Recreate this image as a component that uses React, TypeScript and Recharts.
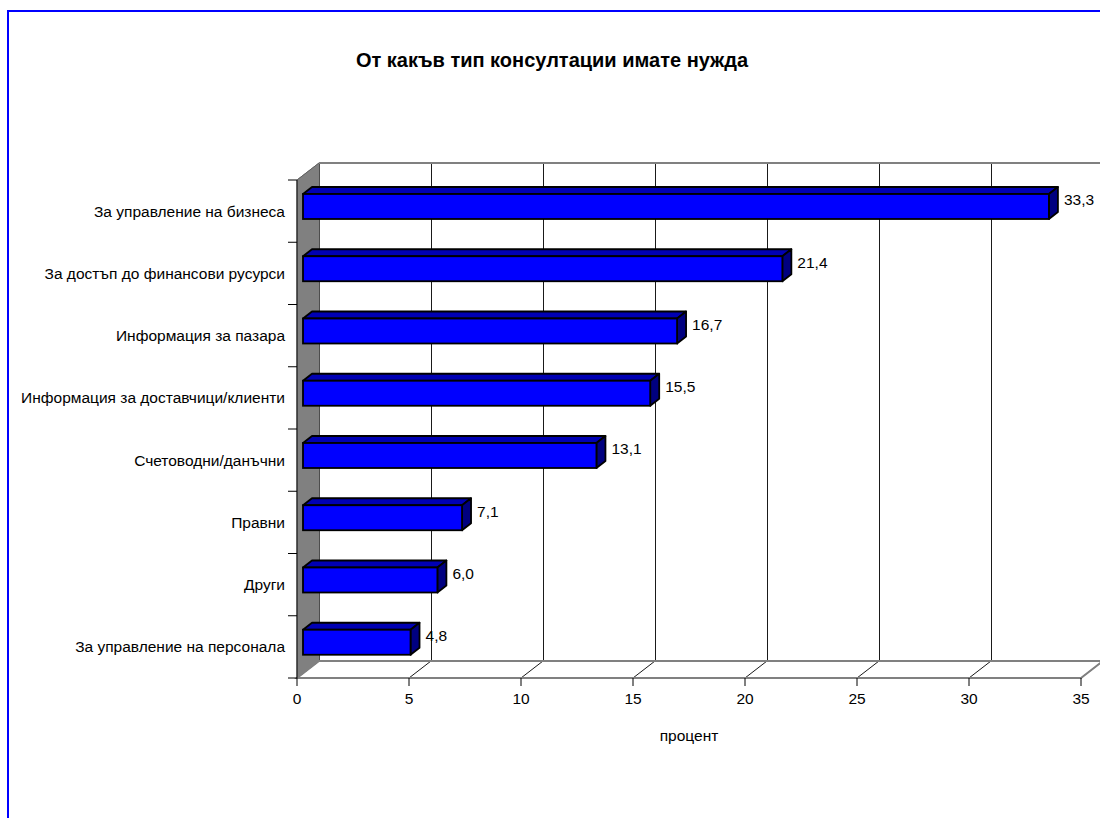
import React from 'react';
import { BarChart, Bar, XAxis, YAxis, CartesianGrid, ReferenceArea, LabelList } from 'recharts';

const categories = [
  'За управление на бизнеса',
  'За достъп до финансови русурси',
  'Информация за пазара',
  'Информация за доставчици/клиенти',
  'Счетоводни/данъчни',
  'Правни',
  'Други',
  'За управление на персонала',
];
const values = [33.3, 21.4, 16.7, 15.5, 13.1, 7.1, 6.0, 4.8];
const xTicks = [0, 5, 10, 15, 20, 25, 30, 35];
const title = 'От какъв тип консултации имате нужда';
const xLabel = 'процент';

const data = categories.map((name, i) => ({ name, value: values[i] }));

const FONT = "'Liberation Sans', Arial, sans-serif";
const FS = 15.5;
const WALL_DX = 22;
const WALL_DY = -17;
const BAR_OX = 6;
const BAR_OY = -5;
const BAR_DX = 9;
const BAR_DY = -7;

const Bar3D = (props: any) => {
  const { x, y, width, height } = props;
  const fx = x + BAR_OX;
  const fy = y + BAR_OY;
  const w = width;
  const h = height;
  const sw = 1.8;
  return (
    <g>
      <polygon
        points={`${fx},${fy} ${fx + BAR_DX},${fy + BAR_DY} ${fx + w + BAR_DX},${fy + BAR_DY} ${fx + w},${fy}`}
        fill="#0000B4"
        stroke="#000"
        strokeWidth={sw}
        strokeLinejoin="round"
      />
      <polygon
        points={`${fx + w},${fy} ${fx + w + BAR_DX},${fy + BAR_DY} ${fx + w + BAR_DX},${fy + h + BAR_DY} ${fx + w},${fy + h}`}
        fill="#000080"
        stroke="#000"
        strokeWidth={sw}
        strokeLinejoin="round"
      />
      <rect x={fx} y={fy} width={w} height={h} fill="#0000FF" stroke="#000" strokeWidth={sw} />
    </g>
  );
};

const Walls = (props: any) => {
  const { x, y, width, height } = props;
  const b = y + height;
  const r = x + width;
  return (
    <g>
      <polygon
        points={`${x},${y} ${x + WALL_DX},${y + WALL_DY} ${x + WALL_DX},${b + WALL_DY} ${x},${b}`}
        fill="#808080"
        stroke="#808080"
        strokeWidth={1}
      />
      <polygon
        points={`${x},${b} ${r},${b} ${r + WALL_DX},${b + WALL_DY} ${x + WALL_DX},${b + WALL_DY}`}
        fill="none"
        stroke="#808080"
        strokeWidth={2}
      />
      <line x1={x + WALL_DX} y1={y + WALL_DY} x2={r + WALL_DX} y2={y + WALL_DY} stroke="#808080" strokeWidth={2} />
      <line x1={x} y1={y} x2={x + WALL_DX} y2={y + WALL_DY} stroke="#606060" strokeWidth={1} />
    </g>
  );
};

const gridLine = (props: any) => {
  const { x1, y1, y2, index } = props;
  return (
    <g key={`g-${index}-${x1}`}>
      <line
        x1={x1 + WALL_DX}
        y1={y1 + WALL_DY}
        x2={x1 + WALL_DX}
        y2={y2 + WALL_DY}
        stroke="#1a1a1a"
        strokeWidth={1}
        shapeRendering="crispEdges"
      />
      <line x1={x1} y1={y2} x2={x1 + WALL_DX} y2={y2 + WALL_DY} stroke="#1a1a1a" strokeWidth={1} />
    </g>
  );
};

const YTick = (props: any) => {
  const { x, y, payload, index, visibleTicksCount } = props;
  const half = payload && payload.offset ? payload.offset : 31.125;
  const ax = x + 12;
  const last = index === (visibleTicksCount ?? categories.length) - 1;
  return (
    <g>
      <line x1={ax - 9} y1={y - half} x2={ax} y2={y - half} stroke="#000" strokeWidth={1} />
      {last && <line x1={ax - 9} y1={y + half} x2={ax} y2={y + half} stroke="#000" strokeWidth={1} />}
      <text x={x} y={y} dy="0.35em" textAnchor="end" fontSize={FS} fill="#000" fontFamily={FONT}>
        {payload.value}
      </text>
    </g>
  );
};

const ValueLabel = (props: any) => {
  const { x, y, width, height, value } = props;
  const tx = x + width + BAR_OX + BAR_DX + 6;
  const ty = y + height / 2 + BAR_OY - 6.5;
  return (
    <text x={tx} y={ty} dy="0.35em" fontSize={FS} fill="#000" fontFamily={FONT}>
      {Number(value).toFixed(1).replace('.', ',')}
    </text>
  );
};

export default function App() {
  return (
    <div style={{ position: 'absolute', left: 0, top: 0, width: 1100, height: 818, overflow: 'hidden', background: '#fff', fontFamily: FONT }}>
      <div
        style={{
          position: 'absolute',
          left: 7,
          top: 10,
          width: 1200,
          height: 900,
          borderLeft: '2px solid #0000FF',
          borderTop: '2px solid #0000FF',
        }}
      />
      <div
        style={{
          position: 'absolute',
          left: 0,
          width: 1104,
          top: 48,
          textAlign: 'center',
          fontWeight: 'bold',
          fontSize: 20,
          color: '#000',
          lineHeight: '24px',
        }}
      >
        {title}
      </div>
      <div style={{ position: 'absolute', left: 0, top: 0 }}>
        <BarChart
          width={1100}
          height={818}
          data={data}
          layout="vertical"
          margin={{ top: 180, right: 19, bottom: 110, left: 0 }}
          barSize={25}
        >
          <ReferenceArea x1={0} x2={35} shape={<Walls />} ifOverflow="visible" />
          <CartesianGrid horizontal={false} vertical={gridLine} />
          <XAxis
            type="number"
            domain={[0, 35]}
            ticks={xTicks}
            interval={0}
            height={30}
            tickSize={8}
            tickMargin={7}
            axisLine={{ stroke: '#808080', strokeWidth: 2 }}
            tickLine={{ stroke: '#000' }}
            tick={{ fontSize: FS, fill: '#000', fontFamily: FONT }}
            label={{ value: xLabel, position: 'bottom', offset: 22, fontSize: FS, fill: '#000', fontFamily: FONT }}
          />
          <YAxis
            type="category"
            dataKey="name"
            width={297}
            interval={0}
            tickSize={9}
            tickMargin={3}
            tickLine={false}
            axisLine={{ stroke: '#000' }}
            tick={<YTick />}
          />
          <Bar dataKey="value" isAnimationActive={false} shape={<Bar3D />}>
            <LabelList dataKey="value" content={<ValueLabel />} />
          </Bar>
        </BarChart>
      </div>
    </div>
  );
}
